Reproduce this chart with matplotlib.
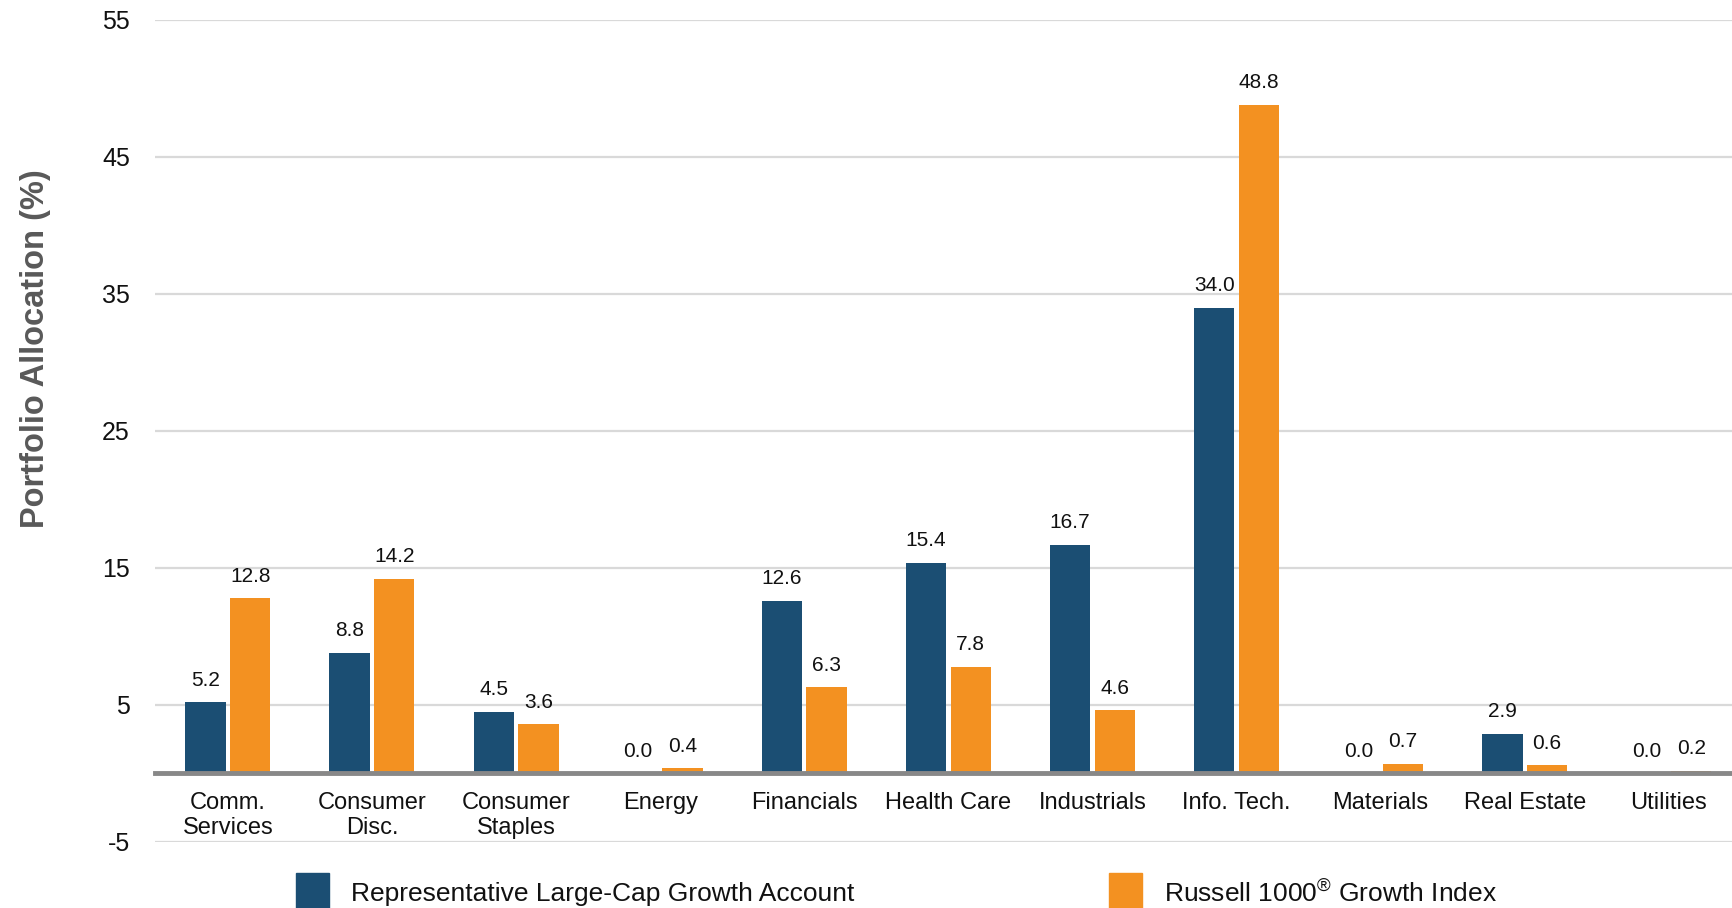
import matplotlib
matplotlib.use("Agg")
import matplotlib.pyplot as plt
from matplotlib.patches import Rectangle
import numpy as np

plt.rcParams['font.family'] = ['Liberation Sans', 'DejaVu Sans']
plt.rcParams['mathtext.fontset'] = 'custom'
plt.rcParams['mathtext.rm'] = 'Liberation Sans'
plt.rcParams['mathtext.it'] = 'Liberation Sans:italic'
plt.rcParams['mathtext.bf'] = 'Liberation Sans:bold'
plt.rcParams['axes.unicode_minus'] = False

sectors = ["Comm.\nServices", "Consumer\nDisc.", "Consumer\nStaples", "Energy",
           "Financials", "Health Care", "Industrials", "Info. Tech.",
           "Materials", "Real Estate", "Utilities"]
account = [5.2, 8.8, 4.5, 0.0, 12.6, 15.4, 16.7, 34.0, 0.0, 2.9, 0.0]
index = [12.8, 14.2, 3.6, 0.4, 6.3, 7.8, 4.6, 48.8, 0.7, 0.6, 0.2]
series_names = ["Representative Large-Cap Growth Account",
                r"Russell 1000$^{\mathrm{®}}$ Growth Index"]
yticks = [-5, 5, 15, 25, 35, 45, 55]

blue = "#1B4E73"
orange = "#F39121"

fig = plt.figure(figsize=(17.33, 9.08), dpi=100)
ax = fig.add_axes([0.0894, 0.0727, 0.9106, 0.9053])

x = np.arange(len(sectors))
w = 0.28
off = 0.155
b1 = ax.bar(x - off, account, w, color=blue, zorder=3)
b2 = ax.bar(x + off, index, w, color=orange, zorder=3)

for bars, vals in [(b1, account), (b2, index)]:
    for rect, v in zip(bars, vals):
        ax.annotate(f"{v:.1f}", (rect.get_x() + rect.get_width() / 2, v),
                    xytext=(0, 9), textcoords="offset points",
                    ha="center", va="bottom", fontsize=15, color="#111111")

ax.set_xlim(-0.506, 10.445)
ax.set_ylim(-5, 55)
ax.set_yticks(yticks)
ax.set_xticks(x)
ax.set_xticklabels(sectors)
ax.tick_params(axis="both", length=0, colors="#111111")
ax.tick_params(axis="y", labelsize=18, pad=18)
ax.tick_params(axis="x", labelsize=17, pad=13)
for lbl in ax.get_xticklabels():
    lbl.set_linespacing(1.3)

ax.yaxis.grid(True, color="#d9d9d9", linewidth=1.6, zorder=0)
ax.set_axisbelow(True)
for s in ["top", "right", "left"]:
    ax.spines[s].set_visible(False)
ax.spines["bottom"].set_position(("data", 0))
ax.spines["bottom"].set_color("#888888")
ax.spines["bottom"].set_linewidth(3.5)
ax.spines["bottom"].set_zorder(4)

ax.set_ylabel("Portfolio Allocation (%)", fontsize=23.5, fontweight="bold",
              color="#595959")
ax.yaxis.set_label_coords(-0.066, 0.6)

# legend along the bottom edge
for px, color, name, tx in [(0.1708, blue, series_names[0], 0.2025),
                            (0.640, orange, series_names[1], 0.6715)]:
    fig.add_artist(Rectangle((px, -0.01), 0.0192, 0.0485, color=color,
                             transform=fig.transFigure))
    fig.text(tx, 0.0155, name, fontsize=19, va="center", ha="left",
             color="#111111")

fig.savefig("out.png", dpi=100)
